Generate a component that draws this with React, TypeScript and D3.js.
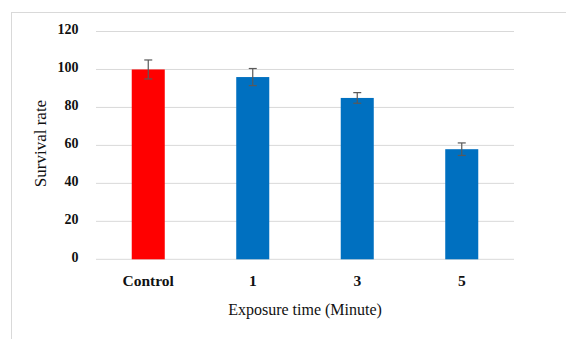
import React from "react";
import * as d3 from "d3";

const categories = ["Control", "1", "3", "5"];
const survival = [100, 96, 85, 58];
const errors = [5, 4.5, 2.8, 3.3];
const barColors = ["#FF0000", "#0070C0", "#0070C0", "#0070C0"];
const yTicks = [0, 20, 40, 60, 80, 100, 120];

const width = 566;
const height = 339;
const margin = { top: 31.5, right: 52, bottom: 79.7, left: 96 };

export default function App() {
  const x = d3
    .scaleBand()
    .domain(categories)
    .range([margin.left, width - margin.right])
    .padding(0);
  const y = d3
    .scaleLinear()
    .domain([0, 120])
    .range([height - margin.bottom, margin.top]);

  const barW = x.bandwidth() * 0.316;
  const capW = 8;

  return (
    <div style={{ position: "fixed", left: 0, top: 0 }}>
      <svg width={width} height={height} style={{ display: "block", background: "#fff" }}>
        <rect x={11.5} y={12.5} width={600} height={400} fill="#fff" stroke="#d9d9d9" />
        {yTicks.map(t => (
          <g key={t}>
            <line
              x1={margin.left}
              x2={width - margin.right}
              y1={y(t)}
              y2={y(t)}
              stroke="#d9d9d9"
              strokeWidth={1}
            />
            <text
              x={78.5}
              y={y(t)}
              dy="0.2em"
              textAnchor="end"
              fontFamily="'Liberation Serif', serif"
              fontWeight="bold"
              fontSize={14}
              fill="#111"
            >
              {t}
            </text>
          </g>
        ))}
        {categories.map((c, i) => {
          const cx = (x(c) as number) + x.bandwidth() / 2;
          return (
            <g key={c}>
              <rect
                x={cx - barW / 2}
                y={y(survival[i])}
                width={barW}
                height={y(0) - y(survival[i])}
                fill={barColors[i]}
              />
              <line
                x1={cx}
                x2={cx}
                y1={y(survival[i] + errors[i])}
                y2={y(survival[i] - errors[i])}
                stroke="#595959"
                strokeWidth={1.2}
              />
              <line
                x1={cx - capW / 2}
                x2={cx + capW / 2}
                y1={y(survival[i] + errors[i])}
                y2={y(survival[i] + errors[i])}
                stroke="#595959"
                strokeWidth={1.2}
              />
              <line
                x1={cx - capW / 2}
                x2={cx + capW / 2}
                y1={y(survival[i] - errors[i])}
                y2={y(survival[i] - errors[i])}
                stroke="#595959"
                strokeWidth={1.2}
              />
              <text
                x={cx}
                y={286}
                textAnchor="middle"
                fontFamily="'Liberation Serif', serif"
                fontWeight="bold"
                fontSize={15.5}
                fill="#111"
              >
                {c}
              </text>
            </g>
          );
        })}
        <text
          x={(margin.left + width - margin.right) / 2}
          y={315}
          textAnchor="middle"
          fontFamily="'Liberation Serif', serif"
          fontSize={16}
          fill="#111"
        >
          Exposure time (Minute)
        </text>
        <text
          transform={`translate(46,${143.5}) rotate(-90)`}
          textAnchor="middle"
          fontFamily="'Liberation Serif', serif"
          fontSize={17}
          fill="#111"
        >
          Survival rate
        </text>
      </svg>
    </div>
  );
}
